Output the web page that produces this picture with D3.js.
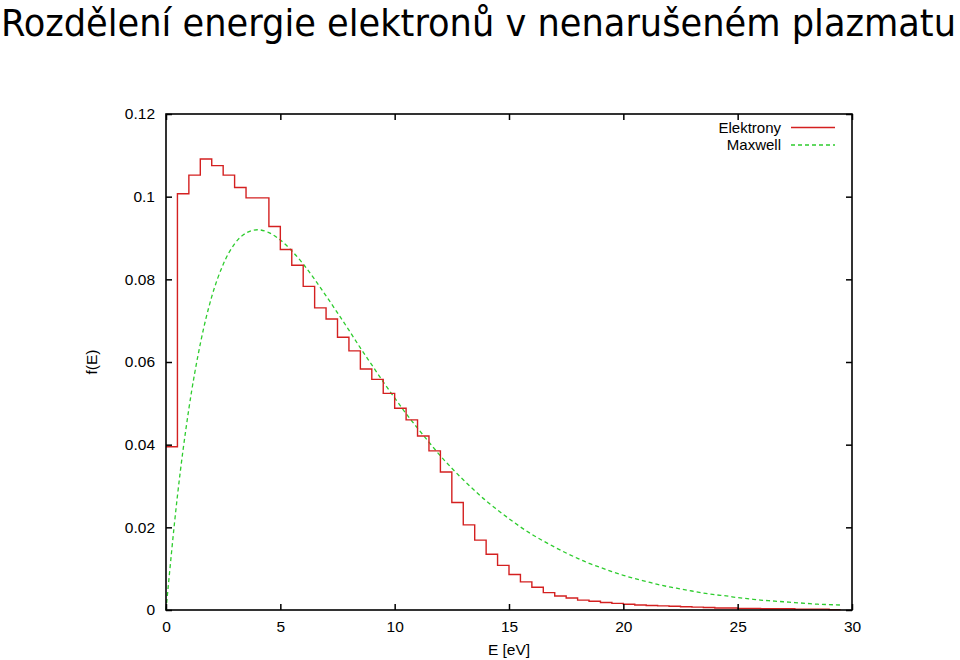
<!DOCTYPE html>
<html><head><meta charset="utf-8">
<script src="https://cdn.jsdelivr.net/npm/d3@7"></script>
<style>
html,body{margin:0;padding:0;background:#fff;}
svg{display:block;}
</style></head>
<body>
<svg id="chart" width="960" height="660"></svg>
<script>
const titleText = "Rozdělení energie elektronů v nenarušeném plazmatu";
const xLabel = "E [eV]";
const yLabel = "f(E)";
const seriesNames = ["Elektrony", "Maxwell"];
const xTicks = [0, 5, 10, 15, 20, 25, 30];
const yTicks = [0, 0.02, 0.04, 0.06, 0.08, 0.1, 0.12];

// Elektrony: histogram step values, bins of 0.5 eV starting at E
const elE = [0,0.5,1,1.5,2,2.5,3,3.5,4,4.5,5,5.5,6,6.5,7,7.5,8,8.5,9,9.5,10,10.5,11,11.5,12,12.5,13,13.5,14,14.5,15,15.5,16,16.5,17,17.5,18,18.5,19,19.5,20,20.5,21,21.5,22,22.5,23,23.5,24,24.5,25,25.5,26,26.5,27,27.5,28,28.5,29,29.5];
const elF = [0.0395,0.1007,0.1052,0.1091,0.1075,0.1052,0.1022,0.0997,0.0997,0.0928,0.0872,0.0834,0.0783,0.0731,0.0704,0.0660,0.0627,0.0583,0.0558,0.0524,0.0488,0.0460,0.0421,0.0385,0.0334,0.0260,0.0206,0.0169,0.0135,0.0108,0.0086,0.0068,0.0055,0.0042,0.0034,0.0029,0.0024,0.0021,0.0018,0.0016,0.0014,0.0012,0.0011,0.0010,0.0009,0.0008,0.0007,0.0006,0.0005,0.0005,0.0004,0.0004,0.0003,0.0003,0.0003,0.0002,0.0002,0.0002,0.0001,0.0001];

// Maxwell curve read at 0.5 eV steps
const mxE = [0,0.5,1,1.5,2,2.5,3,3.5,4,4.5,5,5.5,6,6.5,7,7.5,8,8.5,9,9.5,10,10.5,11,11.5,12,12.5,13,13.5,14,14.5,15,15.5,16,16.5,17,17.5,18,18.5,19,19.5,20,20.5,21,21.5,22,22.5,23,23.5,24,24.5,25,25.5,26,26.5,27,27.5,28,28.5,29,29.5];
const mxF = [0,0.0276,0.0487,0.0644,0.0758,0.0836,0.0886,0.0912,0.0920,0.0913,0.0895,0.0869,0.0837,0.0800,0.0760,0.0719,0.0677,0.0634,0.0593,0.0552,0.0513,0.0475,0.0440,0.0406,0.0373,0.0343,0.0315,0.0289,0.0264,0.0242,0.0221,0.0201,0.0183,0.0167,0.0152,0.0138,0.0125,0.0113,0.0103,0.0093,0.0084,0.0076,0.0069,0.0062,0.0056,0.0051,0.0046,0.0041,0.0037,0.0034,0.0030,0.0027,0.0024,0.0022,0.0020,0.0018,0.0016,0.0014,0.0013,0.0012];

const svg = d3.select("#chart");
const L = 166, R = 852, T = 114, B = 610;
const x = d3.scaleLinear().domain([0, 30]).range([L, R]);
const y = d3.scaleLinear().domain([0, 0.12]).range([B, T]);
const axisFont = "'Liberation Sans', Arial, Helvetica, sans-serif";
const fs = 15.5;

svg.append("text").attr("x", 1).attr("y", 36)
  .attr("font-family", "'DejaVu Sans Condensed', 'DejaVu Sans', sans-serif")
  .attr("font-stretch", "condensed").attr("font-size", 38)
  .attr("textLength", 955).attr("lengthAdjust", "spacingAndGlyphs")
  .attr("fill", "#000").text(titleText);

const red = "#d42020", green = "#2ecc2e";

// data lines
const elData = elE.map((e, i) => [e, elF[i]]);
const mxData = mxE.map((e, i) => [e, mxF[i]]);
svg.append("path").datum(mxData)
  .attr("d", d3.line().x(d => x(d[0])).y(d => y(d[1])).curve(d3.curveMonotoneX))
  .attr("fill", "none").attr("stroke", green).attr("stroke-width", 1.3)
  .attr("stroke-dasharray", "4,3");
svg.append("path").datum(elData)
  .attr("d", d3.line().x(d => x(d[0])).y(d => y(d[1])).curve(d3.curveStepAfter))
  .attr("fill", "none").attr("stroke", red).attr("stroke-width", 1.4);

// axes with inward ticks
const gx = svg.append("g").attr("transform", `translate(0,${B})`)
  .call(d3.axisBottom(x).tickValues(xTicks).tickFormat(d3.format("d")).tickSizeInner(-6).tickSizeOuter(0).tickPadding(11));
const gxTop = svg.append("g").attr("transform", `translate(0,${T})`)
  .call(d3.axisTop(x).tickValues(xTicks).tickFormat("").tickSizeInner(-6).tickSizeOuter(0));
const gy = svg.append("g").attr("transform", `translate(${L},0)`)
  .call(d3.axisLeft(y).tickValues(yTicks).tickFormat(d => d === 0 ? "0" : String(+d.toFixed(2))).tickSizeInner(-6).tickSizeOuter(0).tickPadding(11));
const gyR = svg.append("g").attr("transform", `translate(${R},0)`)
  .call(d3.axisRight(y).tickValues(yTicks).tickFormat("").tickSizeInner(-6).tickSizeOuter(0));
[gx, gxTop, gy, gyR].forEach(g => {
  g.select(".domain").remove();
  g.selectAll(".tick line").attr("stroke", "#000").attr("stroke-width", 1.5);
  g.selectAll("text").attr("font-family", axisFont).attr("font-size", fs).attr("fill", "#000");
});
gx.selectAll("text").attr("dy", "0.71em");

svg.append("rect").attr("x", L).attr("y", T).attr("width", R - L).attr("height", B - T)
  .attr("fill", "none").attr("stroke", "#000").attr("stroke-width", 1.6);

svg.append("text").attr("x", (L + R) / 2).attr("y", 655).attr("text-anchor", "middle")
  .attr("font-family", axisFont).attr("font-size", fs).text(xLabel);
svg.append("text").attr("transform", `translate(97,${(T + B) / 2}) rotate(-90)`)
  .attr("text-anchor", "middle").attr("font-family", axisFont).attr("font-size", fs).text(yLabel);

// legend
const leg = svg.append("g");
[[seriesNames[0], red, null, 127.5], [seriesNames[1], green, "4,3", 145]].forEach(([name, col, dash, ly]) => {
  leg.append("text").attr("x", 781).attr("y", ly).attr("dy", "0.35em").attr("text-anchor", "end")
    .attr("font-family", axisFont).attr("font-size", 15).text(name);
  const ln = leg.append("line").attr("x1", 791).attr("x2", 835).attr("y1", ly).attr("y2", ly)
    .attr("stroke", col).attr("stroke-width", 1.4);
  if (dash) ln.attr("stroke-dasharray", dash);
});
</script>
</body></html>
